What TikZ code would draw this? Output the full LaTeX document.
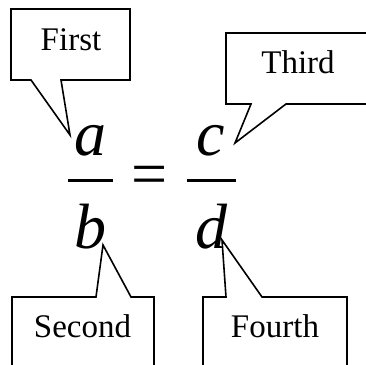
\documentclass[tikz,border=0pt]{standalone}
\usepackage{fontspec}
\setmainfont{Liberation Serif}
\usetikzlibrary{positioning}

\begin{document}
\begin{tikzpicture}[
    % one unit = one pixel of the page, y running downwards
    x=1pt, y=-1pt,
    letter/.style={anchor=base, inner sep=0pt, font=\fontsize{64}{76}\selectfont\itshape},
    relsign/.style={inner sep=0pt, font=\fontsize{64}{76}\selectfont},
    fracbar/.style={line width=3pt},
    % callout outlines and their labels
    callout/.style={draw=black, line width=1.6pt, line join=miter},
    calltext/.style={anchor=base, inner sep=0pt, font=\fontsize{33}{40}\selectfont}
]
\useasboundingbox (0,0) rectangle (366,364);

%% ── Proportion ──────────────────────────────────────────────
\node (a) [letter] at (90,155) {a};
\node (b) [letter] at (90,248) {b};
\node (c) [letter] at (211,155) {c};
\node (d) [letter] at (211,248) {d};
\node (eq) [relsign] at (150,180.5) {=};

\draw [fracbar] (68,180) -- (113,180);
\draw [fracbar] (187,180) -- (236,180);

%% ── Pointer tips ────────────────────────────────────────────
\coordinate (tipa) at (70,135);
\coordinate (tipb) at (103,245);
\coordinate (tipc) at (235,143);
\coordinate (tipd) at (222,240);

%% ── Callouts ────────────────────────────────────────────────
\node (first) [calltext] at (71,50) {First};
\draw [callout] (11,9) -- (130,9) -- (130,80) -- (61,80) -- (tipa)
    -- (31,80) -- (11,80) -- cycle;

\node (third) [calltext] at (298,73) {Third};
\draw [callout] (226,33) -- (372,33) -- (372,104) -- (286,104) -- (tipc)
    -- (251,104) -- (226,104) -- cycle;

\node (second) [calltext] at (82.5,337) {Second};
\draw [callout] (12,370) -- (12,297) -- (96,297) -- (tipb)
    -- (131,297) -- (154,297) -- (154,370) -- cycle;

\node (fourth) [calltext] at (275,337) {Fourth};
\draw [callout] (203,370) -- (203,297) -- (226,297) -- (tipd)
    -- (262,297) -- (347,297) -- (347,370) -- cycle;

\end{tikzpicture}
\end{document}
